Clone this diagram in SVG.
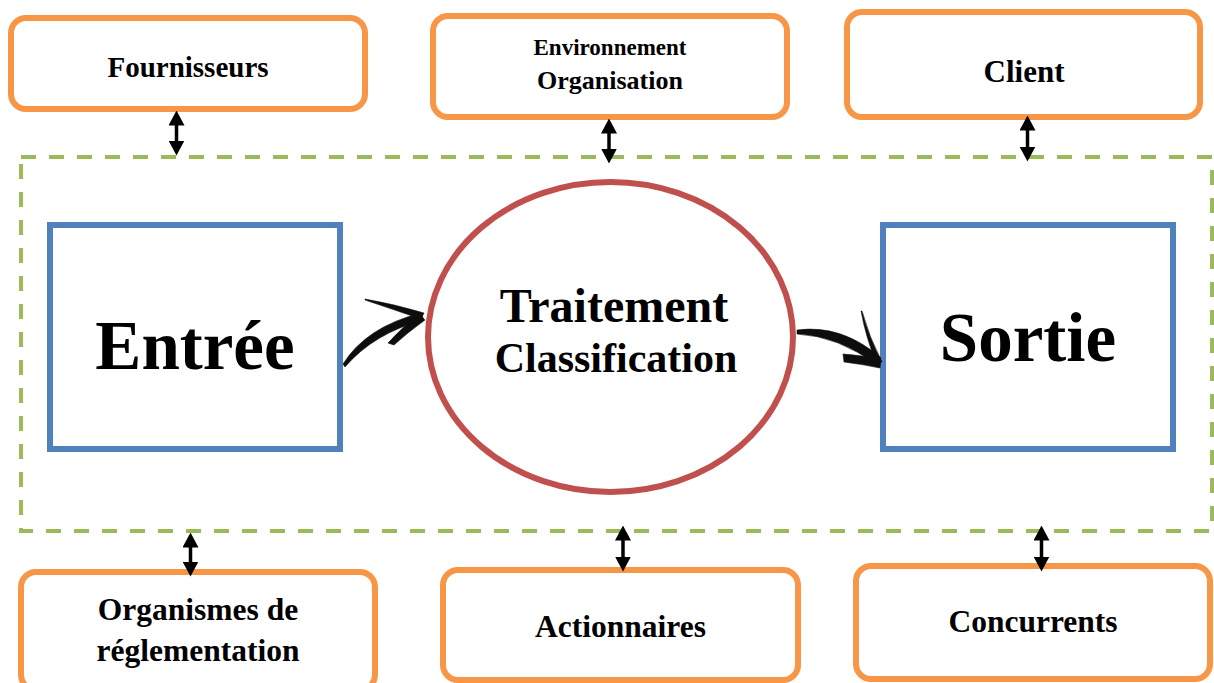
<svg xmlns="http://www.w3.org/2000/svg" width="1214" height="683" viewBox="0 0 1214 683">
  <style>
    .ext { fill: #ffffff; stroke: #F79646; stroke-width: 6; }
    .io { fill: #ffffff; stroke: #4F81BD; stroke-width: 6; }
    .proc { fill: #ffffff; stroke: #C0504D; stroke-width: 6; }
    .scope { fill: none; stroke: #9BBB59; stroke-width: 4; stroke-dasharray: 15 13; }
    text { font-family: "Liberation Serif", "Times New Roman", serif; font-weight: bold; fill: #000000; text-anchor: middle; }
    .link { stroke: #000000; stroke-width: 3.5; fill: none; marker-start: url(#head); marker-end: url(#head); }
    .brush { fill: #111111; stroke: #111111; stroke-width: 0.6; stroke-linejoin: round; }
  </style>
  <defs>
    <marker id="head" markerUnits="userSpaceOnUse" markerWidth="15" markerHeight="16" viewBox="0 0 15 16" refX="0.5" refY="8" orient="auto-start-reverse">
      <path d="M0,0 L15,8 L0,16 Z" fill="#000000"/>
    </marker>
    <filter id="soft" x="-10%" y="-10%" width="120%" height="120%">
      <feGaussianBlur stdDeviation="0.5"/>
    </filter>
  </defs>

  <rect width="1214" height="683" fill="#ffffff"/>

  <!-- system boundary -->
  <rect id="system" class="scope" x="21" y="157" width="1191" height="374"/>

  <!-- outer environment -->
  <g id="fournisseurs">
    <rect class="ext" x="11" y="18" width="354" height="91" rx="15"/>
    <text x="188" y="77" font-size="29">Fournisseurs</text>
  </g>
  <g id="environnement">
    <rect class="ext" x="433" y="16" width="354" height="101" rx="15"/>
    <text x="610" y="55" font-size="23">Environnement</text>
    <text x="610" y="89" font-size="26">Organisation</text>
  </g>
  <g id="client">
    <rect class="ext" x="847" y="12" width="353" height="105" rx="15"/>
    <text x="1024" y="82" font-size="31">Client</text>
  </g>
  <g id="organismes">
    <rect class="ext" x="21" y="572" width="354" height="118" rx="15"/>
    <text x="198" y="620" font-size="31.5">Organismes de</text>
    <text x="198" y="661" font-size="31.5">réglementation</text>
  </g>
  <g id="actionnaires">
    <rect class="ext" x="443" y="570" width="355" height="110" rx="15"/>
    <text x="620.5" y="637" font-size="31.5">Actionnaires</text>
  </g>
  <g id="concurrents">
    <rect class="ext" x="856" y="566" width="354" height="113" rx="15"/>
    <text x="1033" y="632" font-size="31.5">Concurrents</text>
  </g>

  <!-- core process -->
  <g id="entree">
    <rect class="io" x="50" y="225" width="290" height="224"/>
    <text x="195" y="369" font-size="69">Entrée</text>
  </g>
  <g id="traitement">
    <ellipse class="proc" cx="610.5" cy="337" rx="182.5" ry="155"/>
    <text x="614" y="322" font-size="48">Traitement</text>
    <text x="616" y="372" font-size="42">Classification</text>
  </g>
  <g id="sortie">
    <rect class="io" x="883" y="225" width="290" height="224"/>
    <text x="1028" y="361" font-size="69">Sortie</text>
  </g>

  <!-- connectors -->
  <g id="connectors">
    <path class="link" d="M176.5,125 L176.5,141"/>
    <path class="link" d="M609,133 L609,149"/>
    <path class="link" d="M1027.5,130 L1027.5,147"/>
    <path class="link" d="M190.5,547 L190.5,562"/>
    <path class="link" d="M623,540 L623,557"/>
    <path class="link" d="M1041.5,540 L1041.5,557"/>

    <!-- brush arrow: input to process -->
    <g filter="url(#soft)">
      <path class="brush" d="M343,364 Q366,327 421,313 L424,320 Q374,333 345,367 Z"/>
      <path class="brush" d="M365,299 Q394,304 424,313 L421,319 Q392,309 365,300 Z"/>
      <path class="brush" d="M388,343 Q401,328 419,315 L425,320 Q407,333 394,345 Z"/>
    </g>
    <!-- brush arrow: process to output -->
    <g filter="url(#soft)">
      <path class="brush" d="M797,330 Q842,324 881,358 L877,365 Q838,336 797,334 Z"/>
      <path class="brush" d="M862,311 Q869,337 882,362 L876,362 Q866,338 861,311 Z"/>
      <path class="brush" d="M843,354 Q862,355 881,360 L880,368 Q861,364 844,362 Z"/>
    </g>
  </g>
</svg>
